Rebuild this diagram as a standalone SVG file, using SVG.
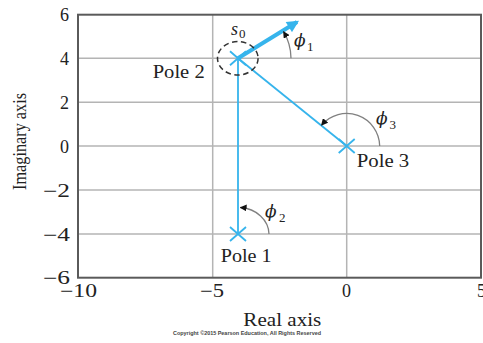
<svg xmlns="http://www.w3.org/2000/svg" width="483" height="343" viewBox="0 0 483 343">
<defs>
<style>
.grid{stroke:#b4b4b4;stroke-width:1.5;fill:none}
.frame{stroke:#5a5a5a;stroke-width:2;fill:none}
.tick{font-family:"Liberation Serif","Times New Roman",serif;font-size:18px;fill:#222}
.lbl{font-family:"Liberation Serif","Times New Roman",serif;font-size:18px;fill:#222}
.greek{font-family:"DejaVu Serif",serif;font-style:italic;font-size:17px;fill:#222}
.sub{font-family:"Liberation Serif","Times New Roman",serif;font-size:13px;fill:#222}
.blue{stroke:#36b4ec;stroke-width:1.8;fill:none}
.cross{stroke:#36b4ec;stroke-width:1.8;fill:none}
.arc{stroke:#808080;stroke-width:1.3;fill:none;marker-end:url(#ah)}
</style>
<marker id="ah" viewBox="0 0 10 10" refX="9" refY="5" markerWidth="7" markerHeight="7" markerUnits="userSpaceOnUse" orient="auto">
<path d="M0,0 L10,5 L0,10 Z" fill="#111"/>
</marker>
<marker id="bh" viewBox="0 0 10 10" refX="8" refY="5" markerWidth="14" markerHeight="12" markerUnits="userSpaceOnUse" orient="auto">
<path d="M0,0 L10,5 L0,10 Z" fill="#36b4ec"/>
</marker>
</defs>
<rect width="483" height="343" fill="#fff"/>
<g id="grid">
<line class="grid" x1="212.7" y1="15" x2="212.7" y2="277.7"/>
<line class="grid" x1="346.7" y1="15" x2="346.7" y2="277.7"/>
<line class="grid" x1="78" y1="58.3" x2="481" y2="58.3"/>
<line class="grid" x1="78" y1="102.3" x2="481" y2="102.3"/>
<line class="grid" x1="78" y1="146" x2="481" y2="146"/>
<line class="grid" x1="78" y1="190" x2="481" y2="190"/>
<line class="grid" x1="78" y1="234" x2="481" y2="234"/>
</g>
<g id="frame"><rect class="frame" x="78" y="14.7" width="403" height="263"/></g>
<g id="ticklabels">
<text class="tick" x="69" y="21" text-anchor="end">6</text>
<text class="tick" x="69" y="64.8" text-anchor="end">4</text>
<text class="tick" x="69" y="108.8" text-anchor="end">2</text>
<text class="tick" x="69" y="152.5" text-anchor="end">0</text>
<text class="tick" x="43" y="196.5" textLength="27" lengthAdjust="spacingAndGlyphs">−2</text>
<text class="tick" x="43" y="240.5" textLength="27" lengthAdjust="spacingAndGlyphs">−4</text>
<text class="tick" x="43" y="284.3" textLength="27" lengthAdjust="spacingAndGlyphs">−6</text>
<text class="tick" x="60" y="297.3" textLength="37" lengthAdjust="spacingAndGlyphs">−10</text>
<text class="tick" x="200" y="297.3" textLength="24" lengthAdjust="spacingAndGlyphs">−5</text>
<text class="tick" x="346.5" y="297.3" text-anchor="middle">0</text>
<text class="tick" x="477" y="297.3">5</text>
</g>
<g id="axis-titles">
<text class="lbl" x="243.3" y="326" textLength="78" lengthAdjust="spacingAndGlyphs">Real axis</text>
<text class="lbl" transform="translate(25.5,141.5) rotate(-90)" x="0" y="0" text-anchor="middle" font-size="16" textLength="97" lengthAdjust="spacingAndGlyphs">Imaginary axis</text>
<text x="173" y="335" textLength="148" lengthAdjust="spacingAndGlyphs" font-family="Liberation Sans, Arial, sans-serif" font-size="5" font-weight="bold" fill="#444">Copyright ©2015 Pearson Education, All Rights Reserved</text>
</g>
<g id="connectors">
<line class="blue" x1="238" y1="234" x2="238" y2="58.3"/>
<line class="blue" x1="346.7" y1="146" x2="238" y2="58.3"/>
<line stroke="#36b4ec" stroke-width="4" x1="238" y1="58.3" x2="297" y2="22" marker-end="url(#bh)"/>
</g>
<g id="angles">
<path class="arc" d="M291,58.3 A53,53 0 0 0 283.5,31.5"/>
<path class="arc" d="M379.7,146 A33,33 0 0 0 321.5,125.2"/>
<path class="arc" d="M269,234 A31,27 0 0 0 240.3,207.5"/>
<text class="greek" x="294" y="46">ϕ</text><text class="sub" x="307" y="51">1</text>
<text class="greek" x="376" y="124">ϕ</text><text class="sub" x="389.5" y="129">3</text>
<text class="greek" x="265" y="217">ϕ</text><text class="sub" x="279" y="222">2</text>
</g>
<g id="s0">
<ellipse cx="237.8" cy="58.3" rx="20.3" ry="16.7" fill="none" stroke="#333" stroke-width="1.5" stroke-dasharray="5.5,3.5"/>
<text x="231" y="35" font-family="Liberation Serif, serif" font-style="italic" font-size="18" fill="#222">s</text><text class="sub" x="239" y="38">0</text>
</g>
<g id="pole1">
<path class="cross" d="M230,227 L246,241 M246,227 L230,241"/>
<text class="lbl" x="220.7" y="261.7" textLength="51" lengthAdjust="spacingAndGlyphs">Pole 1</text>
</g>
<g id="pole2">
<path class="cross" d="M230,51.3 L246,65.3 M246,51.3 L230,65.3"/>
<text class="lbl" x="152.7" y="77.7" textLength="52" lengthAdjust="spacingAndGlyphs">Pole 2</text>
</g>
<g id="pole3">
<path class="cross" d="M338.7,139 L354.7,153 M354.7,139 L338.7,153"/>
<text class="lbl" x="356.7" y="166.7" textLength="52.6" lengthAdjust="spacingAndGlyphs">Pole 3</text>
</g>
</svg>
